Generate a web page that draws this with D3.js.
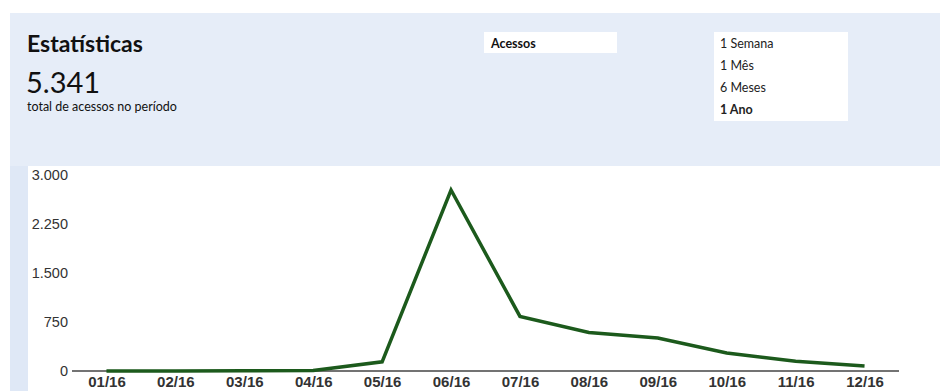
<!DOCTYPE html>
<html><head><meta charset="utf-8">
<script src="https://cdn.jsdelivr.net/npm/d3@7"></script>
<style>
html,body{margin:0;padding:0;background:#fff;}
svg{display:block;}
</style></head>
<body>
<svg id="c" width="940" height="391"></svg>
<script>
const months = ["01/16","02/16","03/16","04/16","05/16","06/16","07/16","08/16","09/16","10/16","11/16","12/16"];
const acessos = [0,0,3,8,140,2770,835,590,505,275,150,75];
const yTicks = [0,750,1500,2250,3000];
const periodOptions = ["1 Semana","1 Mês","6 Meses","1 Ano"];
const selectedPeriod = "1 Ano";
const metricLabel = "Acessos";
const title = "Estatísticas";
const totalText = "5.341";
const subtitle = "total de acessos no período";

const svg = d3.select("#c");
const font = "Lato, 'Open Sans', sans-serif";
const axFont = "'Liberation Sans', Arial, sans-serif";

// panels
svg.append("rect").attr("x",10).attr("y",13).attr("width",930).attr("height",153).attr("fill","#e6edf8");
svg.append("rect").attr("x",10).attr("y",166).attr("width",18).attr("height",225).attr("fill","#dfe8f6");

svg.append("text").attr("x",27).attr("y",52).attr("font-family",font).attr("font-weight","bold")
  .attr("font-size",23).attr("fill","#111").text(title);
svg.append("text").attr("x",26).attr("y",93).attr("font-family",font)
  .attr("font-size",29).attr("fill","#111").text(totalText);
svg.append("text").attr("x",27).attr("y",111).attr("font-family",font)
  .attr("font-size",12.5).attr("fill","#111").text(subtitle);

// metric box
svg.append("rect").attr("x",484).attr("y",32).attr("width",133).attr("height",21).attr("fill","#fff");
svg.append("text").attr("x",491).attr("y",48).attr("font-family",font).attr("font-weight","bold")
  .attr("font-size",12.5).attr("fill","#111").text(metricLabel);

// period box
svg.append("rect").attr("x",714).attr("y",32).attr("width",134).attr("height",89).attr("fill","#fff");
svg.append("g").selectAll("text").data(periodOptions).join("text")
  .attr("x",720).attr("y",(d,i)=>48+i*22).attr("font-family",font)
  .attr("font-size",12.5).attr("font-weight",d=>d===selectedPeriod?"bold":"normal")
  .attr("fill","#222").text(d=>d);

// scales
const x = d3.scalePoint().domain(months).range([72,899]).padding(0.5);
const y = d3.scaleLinear().domain([0,3000]).range([371,175]);
const fmt = v => d3.format(",")(v).replace(/,/g,".");

const yAxis = d3.axisLeft(y).tickValues(yTicks).tickFormat(fmt).tickSize(0).tickPadding(4);
const gy = svg.append("g").attr("transform","translate(72,0)").call(yAxis);
gy.select(".domain").remove();
gy.selectAll("text").attr("font-family",axFont).attr("font-size",14.5).attr("fill","#333");

const xAxis = d3.axisBottom(x).tickSize(0).tickPadding(5);
const gx = svg.append("g").attr("transform","translate(0,371)").call(xAxis);
gx.select(".domain").remove();
gx.selectAll("text").attr("font-family",axFont).attr("font-size",15)
  .attr("font-weight","bold").attr("fill","#333");

svg.append("line").attr("x1",72).attr("x2",899).attr("y1",y(0)).attr("y2",y(0))
  .attr("stroke","#444").attr("stroke-width",1.5);

const line = d3.line().x((d,i)=>x(months[i])).y(d=>y(d));
svg.append("path").datum(acessos).attr("d",line).attr("fill","none")
  .attr("stroke","#1c5a1c").attr("stroke-width",3.5).attr("stroke-linejoin","miter");
</script>
</body></html>
